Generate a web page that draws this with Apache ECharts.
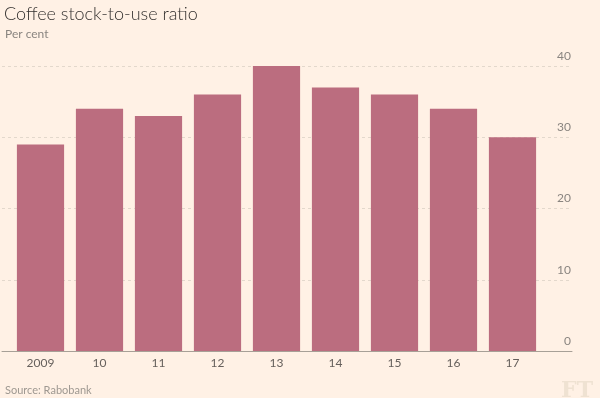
<!DOCTYPE html>
<html><head><meta charset="utf-8">
<script src="https://cdn.jsdelivr.net/npm/echarts@6/dist/echarts.min.js"></script>
<style>html,body{margin:0;padding:0;background:#fff1e5;}#c{width:600px;height:398px;}</style>
</head><body><div id="c"></div>
<script>
const categories = ['2009','10','11','12','13','14','15','16','17'];
const ratio = [29,34,33,36,40,37,36,34,30];
const yTicks = {min:0, max:40, interval:10};
const F = 'Lato, "Open Sans", sans-serif';
const chart = echarts.init(document.getElementById('c'));
chart.setOption({
  backgroundColor:'#fff1e5',
  animation:false,
  title:[
    {text:'Coffee stock-to-use ratio', left:-1, top:0, textStyle:{fontFamily:F, fontSize:18, fontWeight:300, color:'#33302e'}},
    {text:'Per cent', left:0, top:23, textStyle:{fontFamily:F, fontSize:12, fontWeight:'normal', color:'#8a8580'}},
    {text:'Source: Rabobank', left:0, top:380, textStyle:{fontFamily:F, fontSize:11, fontWeight:'normal', color:'#9e9891'}},
    {text:'FT', right:2, top:375, textStyle:{fontFamily:'"DejaVu Serif", serif', fontSize:22, fontWeight:'bold', color:'#efe2d2'}}
  ],
  grid:[
    {left:11, right:58, top:66, bottom:47},
    {left:2, right:28, top:66, bottom:47}
  ],
  xAxis:[
    {type:'category', gridIndex:0, data:categories, axisLine:{show:false}, axisTick:{show:false},
     axisLabel:{color:'#66605c', fontFamily:F, fontSize:12, margin:6}},
    {type:'value', gridIndex:1, min:0, max:1, axisLine:{show:true, lineStyle:{color:'#a7a097', width:1}},
     axisTick:{show:false}, axisLabel:{show:false}, splitLine:{show:false}}
  ],
  yAxis:[
    {type:'value', gridIndex:0, min:yTicks.min, max:yTicks.max, interval:yTicks.interval, show:false, splitLine:{show:false}},
    {type:'value', gridIndex:1, position:'right', min:yTicks.min, max:yTicks.max, interval:yTicks.interval,
     axisLine:{show:false}, axisTick:{show:false},
     axisLabel:{inside:true, margin:1, color:'#8a8580', fontFamily:F, fontSize:12, verticalAlign:'bottom', padding:[0,0,4,0]},
     splitLine:{show:true, lineStyle:{color:'#e3d8cc', type:[3,3], width:1}}}
  ],
  series:[
    {type:'bar', xAxisIndex:0, yAxisIndex:0, data:ratio, barCategoryGap:'20%', itemStyle:{color:'#bb6d7f'}, z:3}
  ]
});
</script></body></html>
